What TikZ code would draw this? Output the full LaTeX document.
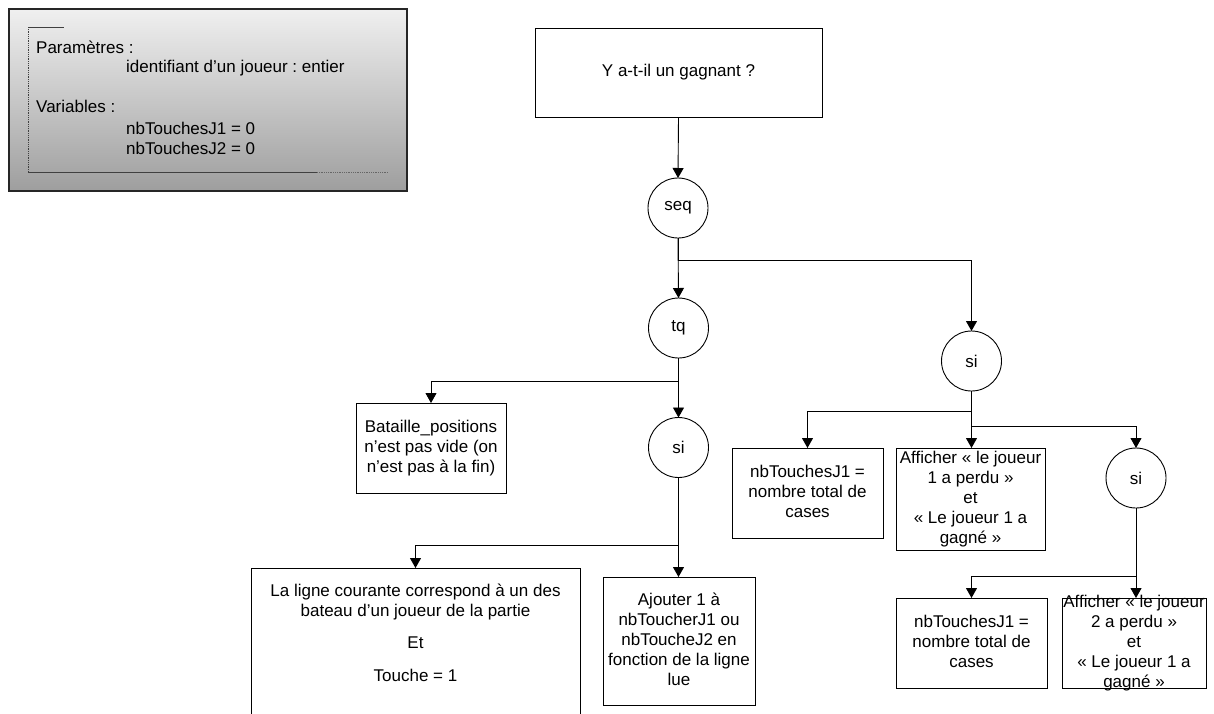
\documentclass[tikz,border=0pt]{standalone}
\usepackage{fontspec}
\setmainfont{Liberation Sans}
\usetikzlibrary{arrows.meta}
\frenchspacing
\newcommand\bxt[3]{\parbox[c][#2][c]{#1}{\makebox[#1][c]{\begin{tabular}{@{}c@{}}#3\end{tabular}}}}
\begin{document}
\begin{tikzpicture}[x=1pt,y=-1pt,
  font=\fontsize{17}{20}\selectfont\frenchspacing,
  box/.style={draw, line width=0.9pt, inner sep=0pt, outer sep=0pt},
  circ/.style={draw, circle, line width=0.9pt, minimum size=60pt, inner sep=0pt, outer sep=0pt},
  arr/.style={line width=0.9pt, -{Triangle[width=11pt,length=10pt]}},
  ptxt/.style={anchor=base west, inner sep=0pt}]
\useasboundingbox (0,0) rectangle (1214,713);
\fill[white] (0,0) rectangle (1214,713);
\clip (0,0) rectangle (1214,713);

% parameter box
\node[draw=black!85, line width=1.5pt, top color=black!6, bottom color=black!38, minimum width=398pt, minimum height=182pt, inner sep=0pt] (param) at (208,100) {};
\draw[densely dotted, line width=0.8pt, black!75] (28,27) -- (28,172);
\draw[line width=0.8pt, black!75] (28,27) -- (64,27);
\draw[line width=0.8pt, black!75] (28,172) -- (317,172);
\draw[densely dotted, line width=0.8pt, black!60] (317,172) -- (388,172);
\node[ptxt] (p1) at (36,53) {Paramètres :};
\node[ptxt] (p2) at (126,72) {identifiant d’un joueur : entier};
\node[ptxt] (p3) at (36,112) {Variables :};
\node[ptxt] (p4) at (126,134) {nbTouchesJ1 = 0};
\node[ptxt] (p5) at (126,154) {nbTouchesJ2 = 0};

% boxes
\node[box] (top) at (678.5,72.5) {\bxt{287pt}{89pt}{Y a-t-il un gagnant ?}};
\node[box] (bat) at (431,448) {\bxt{150pt}{90pt}{Bataille\_positions\\ n’est pas vide (on\\ n’est pas à la fin)}};
\node[box] (lig) at (415.5,653) {\parbox[c][170pt][t]{329pt}{\vspace*{14pt}\makebox[329pt][c]{\begin{tabular}{@{}c@{}}La ligne courante correspond à un des\\ bateau d’un joueur de la partie\\[12pt] Et\\[13pt] Touche = 1\end{tabular}}}};
\node[box] (ajo) at (679,641) {\bxt{152pt}{128pt}{Ajouter 1 à\\ nbToucherJ1 ou\\ nbToucheJ2 en\\ fonction de la ligne\\ lue}};
\node[box] (nb1) at (807.5,493) {\bxt{151pt}{90pt}{nbTouchesJ1 =\\ nombre total de\\ cases}};
\node[box] (af1) at (970.5,499) {\bxt{149pt}{102pt}{Afficher « le joueur\\ 1 a perdu »\\ et\\ « Le joueur 1 a\\ gagné »}};
\node[box] (nb2) at (971.5,643) {\bxt{151pt}{90pt}{nbTouchesJ1 =\\ nombre total de\\ cases}};
\node[box] (af2) at (1134,643) {\bxt{144pt}{90pt}{Afficher « le joueur\\ 2 a perdu »\\ et\\ « Le joueur 1 a\\ gagné »}};

% circles
\node[circ] (seq) at (678,208) {seq};
\node[circ] (tq) at (678.5,328) {tq};
\node[circ] (sil) at (678.5,447.5) {si};
\node[circ] (sir) at (971.5,361) {si};
\node[circ] (si2) at (1136,478) {si};

% connectors
\draw[arr] (top.south) -- (seq.north);
\draw[arr] (seq.south) -- (tq.north);
\draw[arr] (seq.south) -- ++(0,22) -| (sir.north);
\draw[arr] (tq.south) -- ++(0,23) -| (bat.north);
\draw[arr] (tq.south) -- (sil.north);
\draw[arr] (sil.south) -- ++(0,68) -| (lig.north);
\draw[arr] (sil.south) -- (sil.south |- ajo.north);
\draw[arr] (sir.south) -- ++(0,20) -| (nb1.north);
\draw[arr] (sir.south) -- (sir.south |- af1.north);
\draw[arr] (sir.south) -- ++(0,35) -| (si2.north);
\draw[arr] (si2.south) -- ++(0,68) -| (nb2.north);
\draw[arr] (si2.south) -- (si2.south |- af2.north);
\end{tikzpicture}
\end{document}
